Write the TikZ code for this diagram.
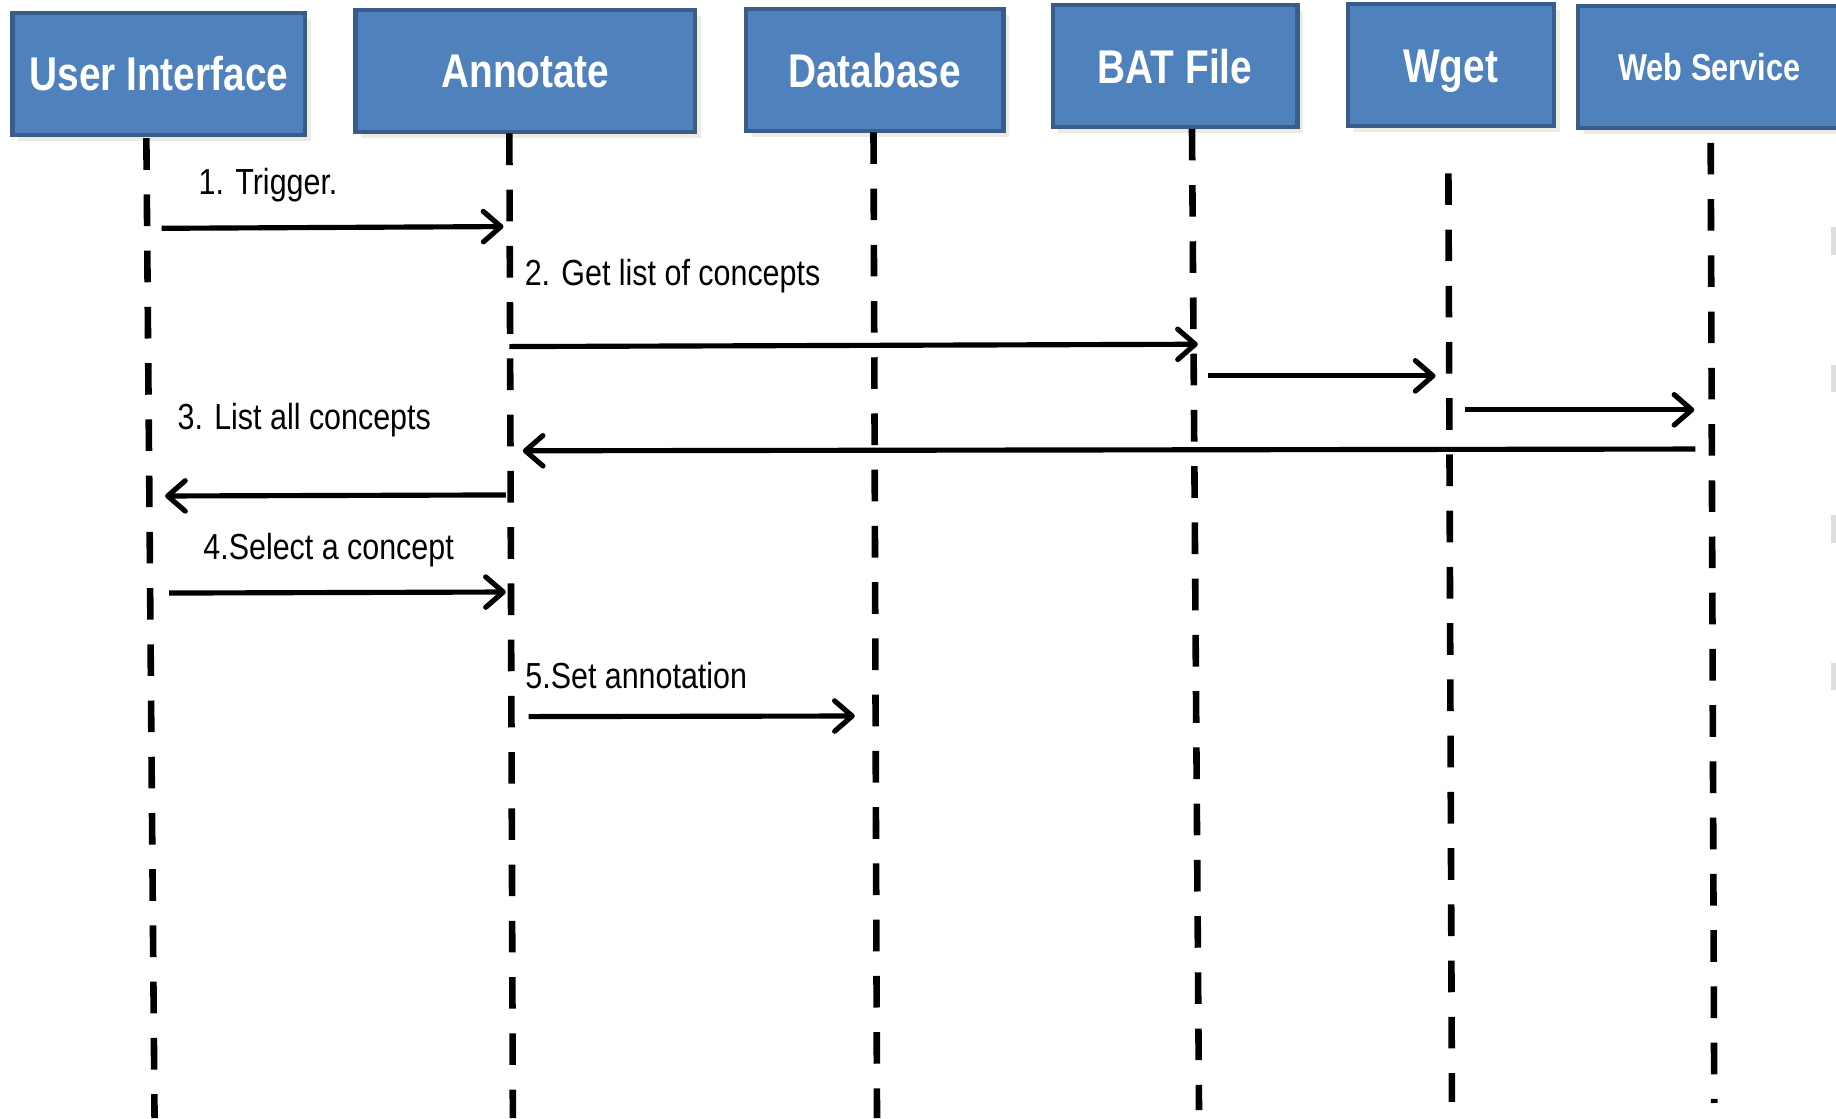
\documentclass[tikz,border=0pt]{standalone}
\usepackage{fontspec}
\setmainfont{Liberation Sans}
\newfontfamily\boxfont[FakeStretch=0.82]{Liberation Sans}
\newfontfamily\msgfont[FakeStretch=0.84]{Liberation Sans}
\usetikzlibrary{arrows.meta,shadows}

\definecolor{boxblue}{HTML}{4F81BD}
\definecolor{boxedge}{HTML}{385D8A}
\definecolor{boxshade}{HTML}{EEECE1}

\tikzset{
  actor/.style={draw=boxedge, line width=1pt, fill=boxblue, text=white,
    font=\boxfont\bfseries\fontsize{11.5}{13}\selectfont,
    inner sep=0pt, text height=8.2pt, text depth=0pt, minimum height=1.04cm,
    drop shadow={shadow xshift=0.05cm, shadow yshift=-0.05cm, fill=boxshade, opacity=1}},
  life/.style={line width=1.6pt, dash pattern=on 0.27cm off 0.21cm},
  msg/.style={line width=1.25pt, -{Straight Barb[length=1.5mm,width=2.6mm,round]}},
  msglabel/.style={font=\msgfont\fontsize{8.8}{10}\selectfont, anchor=base west, inner sep=0pt},
}

\begin{document}
\begin{tikzpicture}[x=0.01cm,y=-0.01cm]
	\useasboundingbox (0,0) rectangle (1568,955);
	%ACTORS
	\node[actor, minimum width=2.5cm] (ui) at (135.7,63) {User Interface};
	\node[actor, minimum width=2.9cm] (ann) at (448.7,60.7) {Annotate};
	\node[actor, minimum width=2.2cm] (db) at (747,60) {Database};
	\node[actor, minimum width=2.09cm] (bat) at (1003.5,56.5) {BAT File};
	\node[actor, minimum width=1.76cm] (wget) at (1239,55.7) {Wget};
	\node[actor, minimum width=2.24cm, text height=6.5pt,
	  font=\boxfont\bfseries\fontsize{9.1}{11}\selectfont] (ws) at (1460,57) {Web Service};
	
	%LIFELINES
	\coordinate (ui top) at (125,118);   \coordinate (ui bot) at (132,955);
	\coordinate (ann top) at (435,114);  \coordinate (ann bot) at (438,955);
	\coordinate (db top) at (746,113);   \coordinate (db bot) at (749,955);
	\coordinate (bat top) at (1018,110); \coordinate (bat bot) at (1024,948);
	\coordinate (wget top) at (1237,148);\coordinate (wget bot) at (1240,941);
	\coordinate (ws top) at (1461,122);  \coordinate (ws bot) at (1464,942);
	\draw[life] (ui top) -- (ui bot);
	\draw[life] (ann top) -- (ann bot);
	\draw[life] (db top) -- (db bot);
	\draw[life] (bat top) -- (bat bot);
	\draw[life] (wget top) -- (wget bot);
	\draw[life] (ws top) -- (ws bot);
	
	%MESSAGES
	\coordinate (trig a) at (138,195);    \coordinate (trig b) at (430,193.5);
	\coordinate (get a) at (435,296);     \coordinate (get b) at (1023,294);
	\coordinate (call a) at (1032,321);   \coordinate (call b) at (1226,321);
	\coordinate (req a) at (1251,350);    \coordinate (req b) at (1447,350);
	\coordinate (back a) at (1448,383.5); \coordinate (back b) at (446.5,385);
	\coordinate (list a) at (432,422.7);  \coordinate (list b) at (141,423.6);
	\coordinate (sel a) at (144.5,506.5); \coordinate (sel b) at (432,505.6);
	\coordinate (set a) at (451.5,612);   \coordinate (set b) at (730,611.5);
	\draw[msg] (trig a) -- (trig b);
	\draw[msg] (get a) -- (get b);
	\draw[msg] (call a) -- (call b);
	\draw[msg] (req a) -- (req b);
	\draw[msg] (back a) -- (back b);
	\draw[msg] (list a) -- (list b);
	\draw[msg] (sel a) -- (sel b);
	\draw[msg] (set a) -- (set b);
	
	\node[msglabel] (l1) at (169,165.7) {1. Trigger.};
	\node[msglabel] (l2) at (447.5,244) {2. Get list of concepts};
	\node[msglabel] (l3) at (151,367) {3. List all concepts};
	\node[msglabel] (l4) at (173,477.5) {4.Select a concept};
	\node[msglabel] (l5) at (448,587.7) {5.Set annotation};
	
	%EDGE MARKS
	\fill[black!13] (1564,194) rectangle (1568,218);
	\fill[black!13] (1564,312) rectangle (1568,335);
	\fill[black!13] (1564,440) rectangle (1568,464);
	\fill[black!13] (1564,566) rectangle (1568,589);
\end{tikzpicture}
\end{document}
